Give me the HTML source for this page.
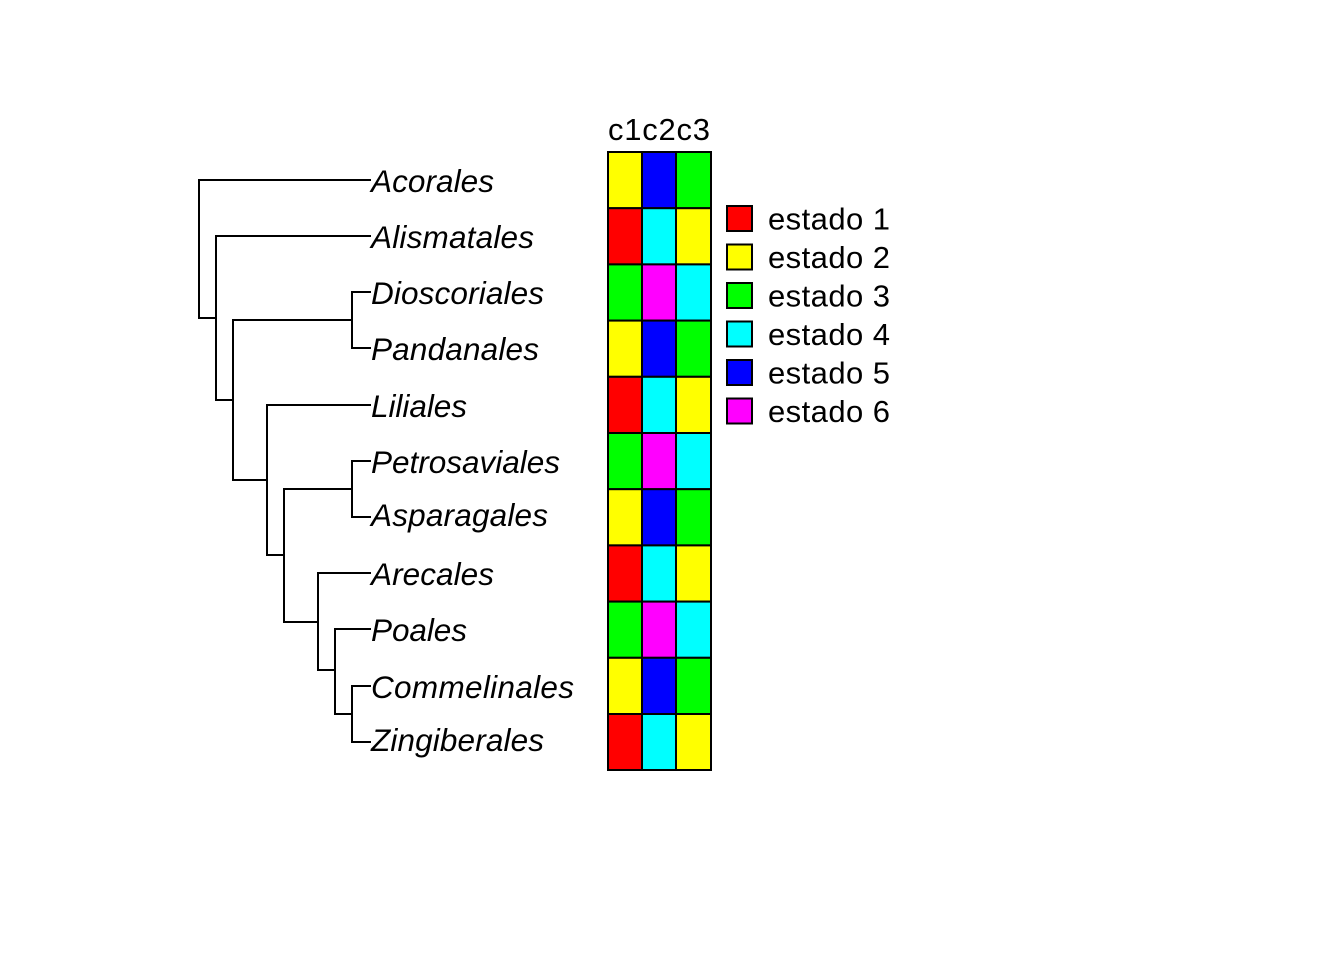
<!DOCTYPE html>
<html><head><meta charset="utf-8"><style>body{margin:0;background:#fff}</style></head><body>
<svg width="1344" height="960" xmlns="http://www.w3.org/2000/svg" font-family="Liberation Sans, sans-serif">
<g stroke="#000" stroke-width="2" fill="none" stroke-linecap="square">
<path d="M199,180V318M199,180H370M199,318H216"/>
<path d="M216,236V400M216,236H370M216,400H233"/>
<path d="M233,320V480M233,320H352M233,480H267"/>
<path d="M352,292V348M352,292H370M352,348H370"/>
<path d="M267,405V555M267,405H370M267,555H284"/>
<path d="M284,489V622M284,489H352M284,622H318"/>
<path d="M352,461V517M352,461H370M352,517H370"/>
<path d="M318,573V670M318,573H370M318,670H335"/>
<path d="M335,629V714M335,629H370M335,714H352"/>
<path d="M352,686V742M352,686H370M352,742H370"/>
</g>
<g font-size="31.5" font-style="italic" dominant-baseline="central">
<text x="371" y="181" textLength="123">Acorales</text>
<text x="371" y="237" textLength="163">Alismatales</text>
<text x="371" y="293" textLength="173">Dioscoriales</text>
<text x="371" y="349" textLength="168">Pandanales</text>
<text x="371" y="406" textLength="96">Liliales</text>
<text x="371" y="462" textLength="189">Petrosaviales</text>
<text x="371" y="515" textLength="177">Asparagales</text>
<text x="371" y="574" textLength="123">Arecales</text>
<text x="371" y="630" textLength="96">Poales</text>
<text x="371" y="687" textLength="203">Commelinales</text>
<text x="371" y="740" textLength="173">Zingiberales</text>
</g>
<text x="608" y="140" font-size="31" textLength="102">c1c2c3</text>
<g stroke="#000" stroke-width="2">
<rect x="608" y="152" width="34" height="56.2" fill="#ff0"/><rect x="642" y="152" width="34" height="56.2" fill="#00f"/><rect x="676" y="152" width="35" height="56.2" fill="#0f0"/>
<rect x="608" y="208.2" width="34" height="56.2" fill="#f00"/><rect x="642" y="208.2" width="34" height="56.2" fill="#0ff"/><rect x="676" y="208.2" width="35" height="56.2" fill="#ff0"/>
<rect x="608" y="264.4" width="34" height="56.2" fill="#0f0"/><rect x="642" y="264.4" width="34" height="56.2" fill="#f0f"/><rect x="676" y="264.4" width="35" height="56.2" fill="#0ff"/>
<rect x="608" y="320.6" width="34" height="56.2" fill="#ff0"/><rect x="642" y="320.6" width="34" height="56.2" fill="#00f"/><rect x="676" y="320.6" width="35" height="56.2" fill="#0f0"/>
<rect x="608" y="376.8" width="34" height="56.2" fill="#f00"/><rect x="642" y="376.8" width="34" height="56.2" fill="#0ff"/><rect x="676" y="376.8" width="35" height="56.2" fill="#ff0"/>
<rect x="608" y="433" width="34" height="56.2" fill="#0f0"/><rect x="642" y="433" width="34" height="56.2" fill="#f0f"/><rect x="676" y="433" width="35" height="56.2" fill="#0ff"/>
<rect x="608" y="489.2" width="34" height="56.2" fill="#ff0"/><rect x="642" y="489.2" width="34" height="56.2" fill="#00f"/><rect x="676" y="489.2" width="35" height="56.2" fill="#0f0"/>
<rect x="608" y="545.4" width="34" height="56.2" fill="#f00"/><rect x="642" y="545.4" width="34" height="56.2" fill="#0ff"/><rect x="676" y="545.4" width="35" height="56.2" fill="#ff0"/>
<rect x="608" y="601.6" width="34" height="56.2" fill="#0f0"/><rect x="642" y="601.6" width="34" height="56.2" fill="#f0f"/><rect x="676" y="601.6" width="35" height="56.2" fill="#0ff"/>
<rect x="608" y="657.8" width="34" height="56.2" fill="#ff0"/><rect x="642" y="657.8" width="34" height="56.2" fill="#00f"/><rect x="676" y="657.8" width="35" height="56.2" fill="#0f0"/>
<rect x="608" y="714" width="34" height="56" fill="#f00"/><rect x="642" y="714" width="34" height="56" fill="#0ff"/><rect x="676" y="714" width="35" height="56" fill="#ff0"/>
</g>
<g stroke="#000" stroke-width="2">
<rect x="727" y="206" width="25" height="25" fill="#f00"/>
<rect x="727" y="244.5" width="25" height="25" fill="#ff0"/>
<rect x="727" y="283" width="25" height="25" fill="#0f0"/>
<rect x="727" y="321.5" width="25" height="25" fill="#0ff"/>
<rect x="727" y="360" width="25" height="25" fill="#00f"/>
<rect x="727" y="398.5" width="25" height="25" fill="#f0f"/>
</g>
<g font-size="31" dominant-baseline="central">
<text x="768" y="219" textLength="122">estado 1</text>
<text x="768" y="257.5" textLength="122">estado 2</text>
<text x="768" y="296" textLength="122">estado 3</text>
<text x="768" y="334.5" textLength="122">estado 4</text>
<text x="768" y="373" textLength="122">estado 5</text>
<text x="768" y="411.5" textLength="122">estado 6</text>
</g>
</svg>
</body></html>
